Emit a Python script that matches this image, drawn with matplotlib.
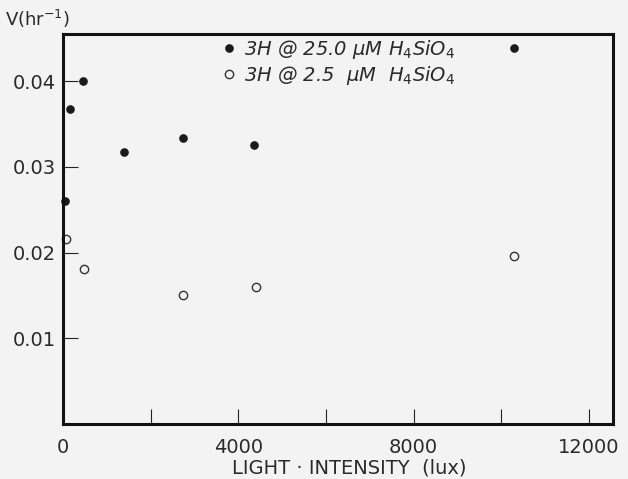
import matplotlib
matplotlib.use("Agg")
import matplotlib.pyplot as plt

# 3H @ 25.0 uM H4SiO4 (filled)
light_hi = [50, 150, 450, 1400, 2750, 4370, 10300]
rate_hi = [0.0260, 0.0367, 0.0400, 0.0317, 0.0334, 0.0326, 0.0439]

# 3H @ 2.5 uM H4SiO4 (open)
light_lo = [80, 470, 2730, 4400, 10300]
rate_lo = [0.0216, 0.0181, 0.0151, 0.0160, 0.0196]

xticks = [0, 2000, 4000, 6000, 8000, 10000, 12000]
xticklabels = ["0", "", "4000", "", "8000", "", "12000"]
yticks = [0.01, 0.02, 0.03, 0.04]
yticklabels = ["0.01", "0.02", "0.03", "0.04"]

bg = "#f3f3f3"
fig = plt.figure(figsize=(6.28, 4.79), dpi=100, facecolor=bg)
ax = fig.add_axes([0.1003, 0.1148, 0.8757, 0.8142])
ax.set_facecolor(bg)

ax.plot(light_hi, rate_hi, "o", color="#1a1a1a", markersize=5.2, clip_on=False,
        label="3H @ 25.0 \u03bcM H$_4$SiO$_4$")
ax.plot(light_lo, rate_lo, "o", markerfacecolor="none", markeredgecolor="#333333",
        markeredgewidth=1.0, markersize=6, clip_on=False,
        label="3H @ 2.5  \u03bcM  H$_4$SiO$_4$")

ax.set_xlim(0, 12550)
ax.set_ylim(0, 0.0455)

ax.set_xticks(xticks)
ax.set_xticklabels(xticklabels)
ax.set_yticks(yticks)
ax.set_yticklabels(yticklabels)

ax.tick_params(axis="both", direction="in", length=11, width=0.8, color="#222222",
               labelsize=14, labelcolor="#2a2a2a")
ax.tick_params(axis="x", pad=10)
ax.tick_params(axis="y", pad=5)

for s in ax.spines.values():
    s.set_linewidth(2.2)
    s.set_color("#111111")

ax.set_xlabel("LIGHT \u00b7 INTENSITY  (lux)", fontsize=14, color="#2a2a2a", labelpad=0)
ax.xaxis.set_label_coords(0.52, -0.088)

fig.text(0.008, 0.937, "V(hr$^{-1}$)", fontsize=13, color="#2a2a2a", va="bottom", ha="left")

leg = ax.legend(loc="upper left", bbox_to_anchor=(0.277, 1.01), frameon=False,
                prop={"style": "italic", "size": 14}, handlelength=0.6,
                handletextpad=0.5, labelspacing=0.15, borderaxespad=0.0)
for t in leg.get_texts():
    t.set_color("#2a2a2a")

fig.savefig("out.png", dpi=100, facecolor=bg)
